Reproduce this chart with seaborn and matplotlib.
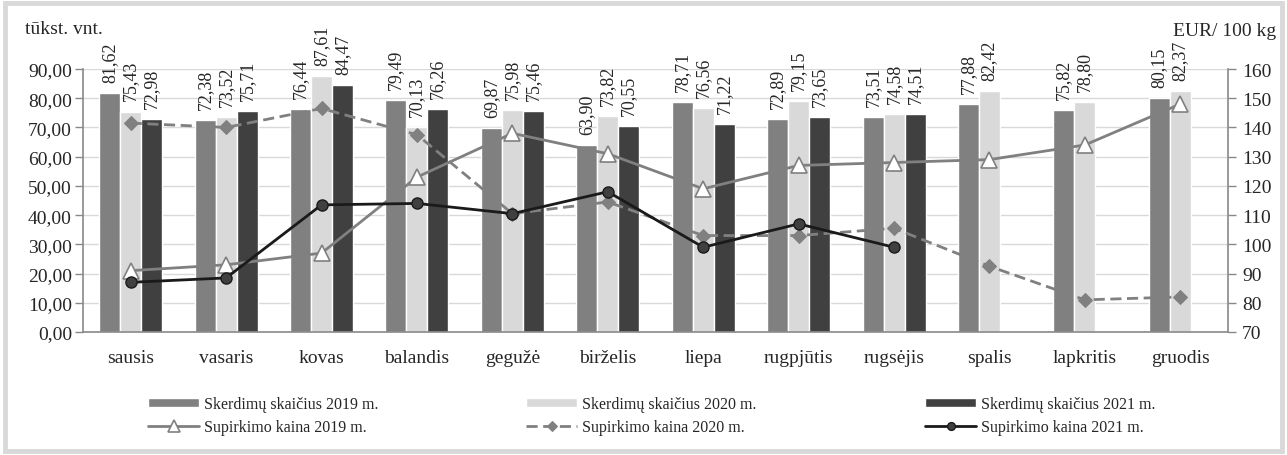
import numpy as np
import pandas as pd
import matplotlib
matplotlib.use("Agg")
import matplotlib.pyplot as plt
from matplotlib.patches import Rectangle
import seaborn as sns

sns.set_theme(style="white")
plt.rcParams['font.family'] = ['Liberation Serif', 'DejaVu Serif']

# Data
months = ["sausis", "vasaris", "kovas", "balandis", "gegužė", "birželis",
          "liepa", "rugpjūtis", "rugsėjis", "spalis", "lapkritis", "gruodis"]
sk2019 = [81.62, 72.38, 76.44, 79.49, 69.87, 63.90, 78.71, 72.89, 73.51, 77.88, 75.82, 80.15]
sk2020 = [75.43, 73.52, 87.61, 70.13, 75.98, 73.82, 76.56, 79.15, 74.58, 82.42, 78.80, 82.37]
sk2021 = [72.98, 75.71, 84.47, 76.26, 75.46, 70.55, 71.22, 73.65, 74.51, np.nan, np.nan, np.nan]
kaina2019 = [91, 93, 97, 123, 138, 131, 119, 127, 128, 129, 134, 148]
kaina2020 = [141.5, 140, 146.5, 137.5, 110.5, 114.5, 103, 103, 105.5, 92.5, 81, 82]
kaina2021 = [87, 88.5, 113.5, 114, 110.5, 118, 99, 107, 99, np.nan, np.nan, np.nan]

bar_names = ["Skerdimų skaičius 2019 m.", "Skerdimų skaičius 2020 m.", "Skerdimų skaičius 2021 m."]
line_names = ["Supirkimo kaina 2019 m.", "Supirkimo kaina 2020 m.", "Supirkimo kaina 2021 m."]
bar_colors = ["#808080", "#d9d9d9", "#404040"]

df = pd.DataFrame({"month": months, bar_names[0]: sk2019, bar_names[1]: sk2020, bar_names[2]: sk2021})
long = df.melt(id_vars="month", var_name="series", value_name="value").dropna()

fig = plt.figure(figsize=(12.87, 4.56), dpi=100)
ax = fig.add_axes([83 / 1287, 1 - 333 / 456, (1228 - 83) / 1287, (333 - 70) / 456])

sns.barplot(data=long, x="month", y="value", hue="series", order=months,
            hue_order=bar_names, palette=dict(zip(bar_names, bar_colors)),
            width=0.66, gap=0, saturation=1, ax=ax, legend=False, zorder=2)

for cont in ax.containers:
    labels = [f"{v:.2f}".replace(".", ",") for v in cont.datavalues]
    ax.bar_label(cont, labels=labels, rotation=90, padding=8, fontsize=13, clip_on=False)

ax.set_ylim(0, 90)
ax.set_xlim(-0.5, 11.5)
ax.set_yticks(np.arange(0, 91, 10))
ax.set_yticklabels([f"{v:.2f}".replace(".", ",") for v in np.arange(0, 91, 10)], fontsize=14)
ax.set_xticks(range(12))
ax.set_xticklabels(months, fontsize=14)
ax.set_xticks(np.arange(-0.5, 12, 1), minor=True)
ax.tick_params(axis="x", which="major", length=0, pad=12)
ax.tick_params(axis="x", which="minor", length=6, color="#898989", width=1)
ax.tick_params(axis="y", length=6, color="#898989", width=1, left=True, pad=2)
ax.set_xlabel("")
ax.set_ylabel("")
ax.set_axisbelow(True)
ax.yaxis.grid(True, color="#d9d9d9", lw=1)
for s in ["top", "right"]:
    ax.spines[s].set_visible(False)
for s in ["left", "bottom"]:
    ax.spines[s].set_color("#898989")
    ax.spines[s].set_linewidth(1.2)

# Prices on the secondary axis
ax2 = ax.twinx()
pos = np.arange(len(months))
sns.lineplot(x=pos, y=kaina2019, ax=ax2, color="#808080", lw=2, marker="^", markersize=12,
             markerfacecolor="white", markeredgecolor="#808080", markeredgewidth=1.2,
             label=line_names[0], legend=False)
sns.lineplot(x=pos, y=kaina2020, ax=ax2, color="#808080", lw=2, linestyle=(0, (4, 2)),
             marker="D", markersize=7, markerfacecolor="#808080", markeredgecolor="#808080",
             label=line_names[1], legend=False)
sns.lineplot(x=pos, y=kaina2021, ax=ax2, color="#1a1a1a", lw=2, marker="o", markersize=8,
             markerfacecolor="#404040", markeredgecolor="#1a1a1a", markeredgewidth=1,
             label=line_names[2], legend=False)
ax2.set_ylim(70, 160)
ax2.set_yticks(np.arange(70, 161, 10))
ax2.set_yticklabels([str(v) for v in range(70, 161, 10)], fontsize=14)
ax2.tick_params(axis="y", length=6, color="#898989", width=1, right=True, pad=4)
ax2.set_ylabel("")
for s in ["top", "left", "bottom"]:
    ax2.spines[s].set_visible(False)
ax2.spines["right"].set_color("#898989")
ax2.spines["right"].set_linewidth(1.2)
ax2.set_xlim(-0.5, 11.5)

fig.text(25 / 1287, 1 - 30 / 456, "tūkst. vnt.", fontsize=14, va="center", ha="left")
fig.text(1276 / 1287, 1 - 32 / 456, "EUR/ 100 kg", fontsize=14, va="center", ha="right")

# Legend: three columns
bar_handles = ax.containers
line_handles = ax2.get_lines()
col_x = [148, 526, 925]
for i in range(3):
    fig.legend([bar_handles[i], line_handles[i]], [bar_names[i], line_names[i]],
               loc="upper left", bbox_to_anchor=(col_x[i] / 1287, 1 - 397 / 456),
               frameon=False, fontsize=11.5, handlelength=3.2, handletextpad=0.3,
               handleheight=0.5, markerscale=0.7,
               labelspacing=0.45, borderpad=0, borderaxespad=0)

fig.patches.append(Rectangle((5 / 1287, 4 / 456), 1277 / 1287, 448 / 456, transform=fig.transFigure,
                             fill=False, edgecolor="#d9d9d9", lw=3.5))

fig.savefig("out.png", dpi=100)
